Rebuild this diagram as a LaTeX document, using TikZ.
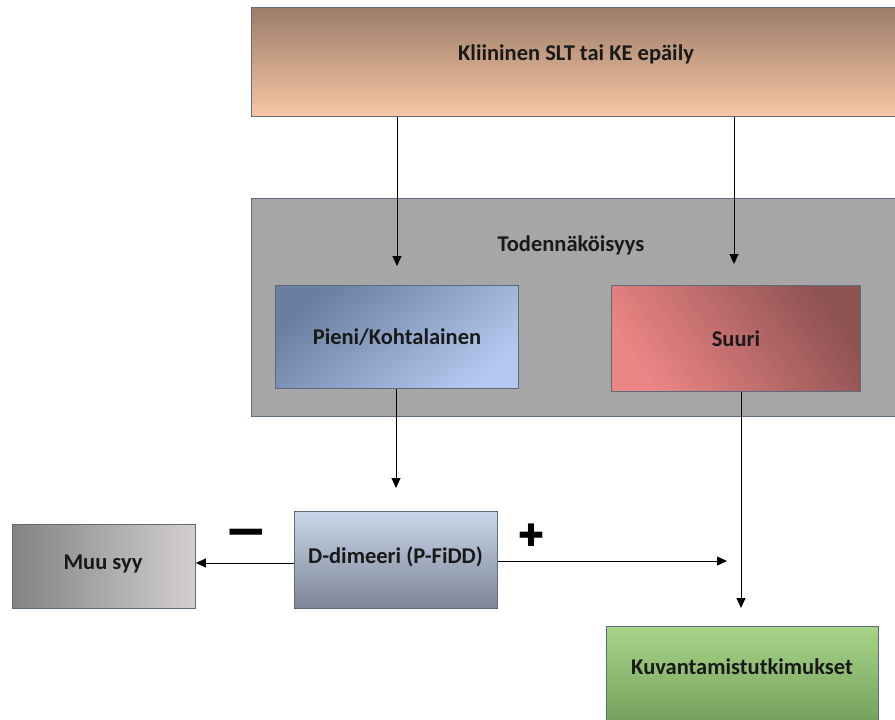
\documentclass[tikz,border=0pt]{standalone}
\usepackage{fontspec}
\setmainfont{Carlito}
\newfontfamily\symfont{DejaVu Sans}
\usetikzlibrary{arrows.meta}
\definecolor{edgec}{HTML}{5E6B7D}
\definecolor{greybg}{HTML}{A6A6A6}
\definecolor{topA}{HTML}{9C7C68}
\definecolor{topB}{HTML}{F7C7A5}
\definecolor{blueA}{HTML}{6A7EA0}
\definecolor{blueB}{HTML}{B3C8EE}
\definecolor{redA}{HTML}{8E5252}
\definecolor{redB}{HTML}{EC8585}
\definecolor{ddA}{HTML}{CBD6EA}
\definecolor{ddB}{HTML}{7C8597}
\definecolor{muuA}{HTML}{838383}
\definecolor{muuB}{HTML}{D3CFCF}
\definecolor{grnA}{HTML}{A8D488}
\definecolor{grnB}{HTML}{6E9956}
\tikzset{
  lbl/.style={font=\fontsize{22.5}{26}\selectfont\bfseries, text=black!90},
  box/.style={draw=edgec, line width=0.9pt, inner sep=0pt, lbl},
  arr/.style={draw=black, line width=1pt, -{Triangle[length=10pt,width=9pt]}},
  sign/.style={inner sep=0pt, text=black}
}
\begin{document}
\begin{tikzpicture}[x=1pt,y=-1pt]
\clip (0,0) rectangle (895,720);
\useasboundingbox (0,0) rectangle (895,720);
% top box
\node[box, minimum width=650pt, minimum height=109pt, top color=topA, bottom color=topB, anchor=north west] (top) at (251,7) {};
\node[lbl] (toptxt) at (576,54) {Kliininen SLT tai KE epäily};
% grey box
\node[box, minimum width=650pt, minimum height=218pt, fill=greybg, anchor=north west] (prob) at (251,198) {};
\node[lbl] (probtxt) at (571,245) {Todennäköisyys};
% inner boxes
\node[box, minimum width=243pt, minimum height=103pt, top color=blueA, bottom color=blueB, shading angle=40, anchor=north west] (pieni) at (275,285) {Pieni/Kohtalainen};
\node[box, minimum width=249pt, minimum height=106pt, top color=redA, bottom color=redB, shading angle=-55, anchor=north west] (suuri) at (611,285) {Suuri};
% lower boxes
\node[box, minimum width=203pt, minimum height=97pt, top color=ddA, bottom color=ddB, anchor=north west] (dd) at (294,511) {};
\node[lbl] (ddtxt) at (395.5,557) {D-dimeeri (P-FiDD)};
\node[box, minimum width=183pt, minimum height=84pt, left color=muuA, right color=muuB, anchor=north west] (muu) at (12,524) {};
\node[lbl] (muutxt) at (103,564) {Muu syy};
\node[box, minimum width=272pt, minimum height=110pt, top color=grnA, bottom color=grnB, anchor=north west] (kuv) at (606,626) {};
\node[lbl] (kuvtxt) at (742,667) {Kuvantamistutkimukset};
% end points
\coordinate (a1) at (397,266);
\coordinate (a2) at (734,264);
\coordinate (a3) at (727,561);
\coordinate (a4) at (741,608);
\coordinate (a5) at (396,488);
% connectors
\draw[arr] (top.south -| a1) -- (a1);
\draw[arr] (top.south -| a2) -- (a2);
\draw[arr] (pieni.south -| a5) -- (a5);
\draw[arr] (suuri.south -| a4) -- (a4);
\draw[arr] (dd.west |- 0,563) -- (muu.east |- 0,563);
\draw[arr] (dd.east |- a3) -- (a3);
% signs
\node[sign, font=\symfont\bfseries\fontsize{52}{52}\selectfont] (minus) at (246,539) {−};
\node[sign, font=\symfont\fontsize{31}{31}\selectfont] (plus) at (531,535) {✚};
\end{tikzpicture}
\end{document}
